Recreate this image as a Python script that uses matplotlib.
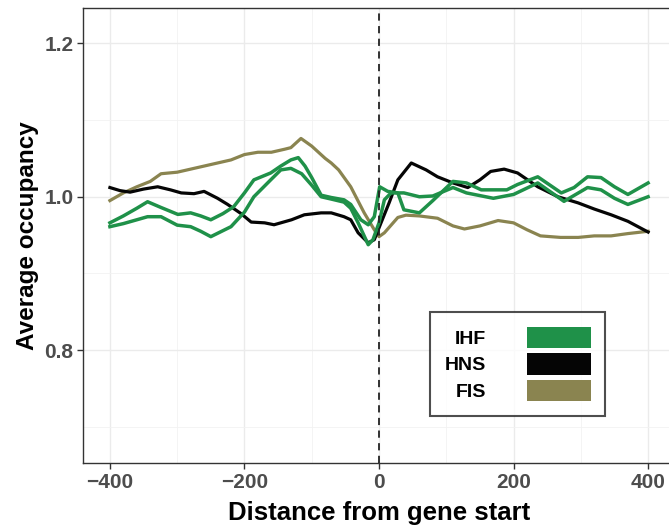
import numpy as np
import matplotlib
matplotlib.use('Agg')
import matplotlib.pyplot as plt
from matplotlib.patches import Patch

plt.rcParams['font.family'] = ['Liberation Sans', 'DejaVu Sans']

# FIS
fis_x = [-400, -380, -360, -340, -324, -300, -280, -260, -240, -220, -200, -180, -160, -140, -131, -116, -100,
         -80, -71, -60, -42, -22, -7, 0, 8, 20, 28, 40, 60, 87, 110, 127, 150, 177, 200, 220, 240, 270, 296,
         320, 345, 370, 400]
fis_y = [0.995, 1.005, 1.013, 1.020, 1.030, 1.032, 1.036, 1.040, 1.044, 1.048, 1.055, 1.058, 1.058, 1.062, 1.064,
         1.076, 1.066, 1.050, 1.044, 1.035, 1.013, 0.979, 0.957, 0.948, 0.953, 0.965, 0.973, 0.976, 0.975, 0.972,
         0.962, 0.958, 0.962, 0.969, 0.966, 0.957, 0.949, 0.947, 0.947, 0.949, 0.949, 0.952, 0.955]

# HNS
hns_x = [-400, -385, -370, -350, -329, -310, -294, -275, -260, -240, -225, -205, -190, -170, -156, -130, -111,
         -86, -71, -52, -42, -31, -16, -7, 3, 15, 28, 48, 70, 87, 110, 132, 150, 166, 186, 206, 236, 266, 296,
         320, 345, 370, 400]
hns_y = [1.012, 1.008, 1.006, 1.010, 1.013, 1.009, 1.005, 1.004, 1.007, 0.998, 0.990, 0.978, 0.967, 0.966, 0.9635,
         0.970, 0.9765, 0.979, 0.979, 0.974, 0.970, 0.953, 0.940, 0.944, 0.966, 0.992, 1.022, 1.044, 1.035, 1.026,
         1.018, 1.012, 1.022, 1.033, 1.036, 1.031, 1.013, 1.000, 0.992, 0.984, 0.9765, 0.968, 0.954]

# IHF (two replicates)
ihf1_x = [-400, -380, -360, -344, -324, -299, -280, -265, -250, -232, -216, -200, -186, -161, -146, -131, -120,
          -110, -100, -86, -71, -52, -42, -27, -16, -7, 1, 13, 28, 37, 60, 80, 110, 130, 152, 190, 206, 236, 271,
          290, 310, 330, 350, 370, 400]
ihf1_y = [0.966, 0.975, 0.985, 0.9935, 0.986, 0.977, 0.979, 0.975, 0.970, 0.978, 0.987, 1.005, 1.022, 1.031, 1.040,
          1.048, 1.051, 1.040, 1.025, 1.002, 0.999, 0.996, 0.990, 0.970, 0.9635, 0.974, 1.013, 1.007, 1.005, 0.983,
          0.979, 0.995, 1.020, 1.018, 1.009, 1.009, 1.016, 1.026, 1.005, 1.012, 1.026, 1.025, 1.013, 1.003, 1.018]
ihf2_x = [-400, -380, -360, -344, -324, -300, -280, -265, -250, -220, -200, -186, -161, -146, -131, -115, -100,
          -86, -71, -52, -42, -31, -16, -9, 0, 8, 18, 37, 60, 80, 110, 130, 170, 200, 236, 275, 310, 330, 350,
          370, 400]
ihf2_y = [0.961, 0.965, 0.970, 0.974, 0.974, 0.963, 0.961, 0.955, 0.948, 0.961, 0.980, 1.000, 1.022, 1.035, 1.037,
          1.030, 1.015, 1.000, 0.997, 0.993, 0.985, 0.966, 0.9375, 0.944, 0.966, 0.996, 1.005, 1.005, 1.000, 1.001,
          1.012, 1.005, 0.998, 1.003, 1.018, 0.994, 1.012, 1.009, 0.998, 0.990, 1.000]

labels = ['IHF', 'HNS', 'FIS']
colors = ['#1f9149', '#050505', '#8a8450']

fig = plt.figure(figsize=(6.69, 5.29), dpi=100)
ax = fig.add_axes([83 / 669, 66 / 529, 592 / 669, 455 / 529])

ax.plot(fis_x, fis_y, color=colors[2], lw=2.3, zorder=3)
ax.plot(hns_x, hns_y, color=colors[1], lw=2.3, zorder=3)
ax.plot(ihf1_x, ihf1_y, color=colors[0], lw=2.5, zorder=3)
ax.plot(ihf2_x, ihf2_y, color=colors[0], lw=2.5, zorder=3)
ax.axvline(0, color='#222222', lw=1.3, ls=(0, (4, 3)), zorder=4)

ax.set_xlim(-440, 440)
ax.set_ylim(0.653, 1.246)
ax.set_xticks([-400, -200, 0, 200, 400])
ax.set_xticks([-300, -100, 100, 300], minor=True)
ax.set_yticks([0.8, 1.0, 1.2])
ax.set_yticks([0.7, 0.9, 1.1], minor=True)
ax.set_xticklabels(['\u2212400', '\u2212200', '0', '200', '400'])
ax.grid(True, which='major', color='#ebebeb', lw=1.0)
ax.grid(True, which='minor', color='#f2f2f2', lw=0.6)
ax.set_axisbelow(True)
for s in ax.spines.values():
    s.set_color('#333333')
    s.set_linewidth(1.0)
ax.tick_params(which='major', length=4, width=1, color='#333333', labelsize=15,
               labelcolor='#4d4d4d', pad=3)
ax.tick_params(which='minor', length=0)
for t in ax.get_xticklabels() + ax.get_yticklabels():
    t.set_fontweight('bold')

ax.set_xlabel('Distance from gene start', fontsize=18.5, fontweight='bold', labelpad=7)
ax.set_ylabel('Average occupancy', fontsize=17.5, fontweight='bold', labelpad=4)

handles = [Patch(facecolor=c, edgecolor='none') for c in colors]
leg = ax.legend(handles, labels, loc='upper left', bbox_to_anchor=((430 - 83) / 592, (463 - 312) / 455),
                frameon=True, fancybox=False, markerfirst=False, prop={'weight': 'bold', 'size': 14},
                handlelength=3.3, handleheight=1.34, labelspacing=0.25, handletextpad=2.1, borderpad=0.75,
                borderaxespad=0)
leg.get_frame().set_edgecolor('#222222')
leg.get_frame().set_linewidth(1.5)

fig.savefig('out.png', dpi=100)
